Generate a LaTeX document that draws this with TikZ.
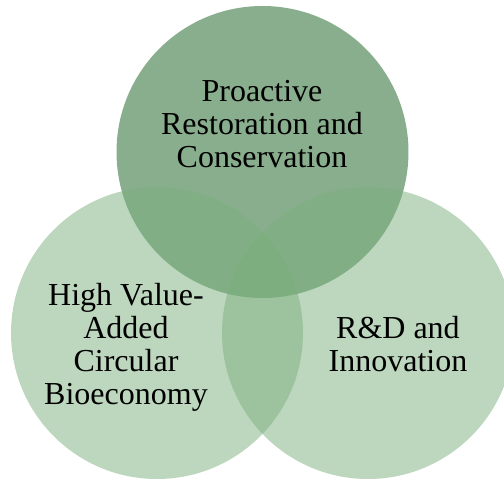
\documentclass[tikz,border=0pt]{standalone}
\usepackage{fontspec}
\setmainfont{Liberation Serif}
\usepackage{tikz}
\usetikzlibrary{positioning}

\definecolor{topgreen}{RGB}{137,174,141}
\definecolor{sidegreen}{RGB}{123,175,125}

\begin{document}
\begin{tikzpicture}[x=1pt,y=1pt]
        \tikzstyle{disc}=[circle,draw=none,minimum size=292pt,inner sep=0pt]
        \tikzstyle{caption}=[align=center,inner sep=0pt,
            font=\fontsize{32}{33}\selectfont]
            \clip (0,0) rectangle (504,481);

            % top circle first, the other two are see-through on top of it
            \node[disc, fill=topgreen] (restore) at (262.5,329) {};
            \node[disc, fill=sidegreen, fill opacity=.5] (bioeco) at (157,148) {};
            \node[disc, fill=sidegreen, fill opacity=.5] (rnd) at (368,148) {};

            \node[caption] (restoretxt) at (262,357)
                {Proactive\\Restoration and\\Conservation};
            \node[caption] (bioecotxt) at (126,134)
                {High Value-\\Added\\Circular\\Bioeconomy};
            \node[caption] (rndtxt) at (398,137) {R\&D and\\Innovation};
        \end{tikzpicture}
\end{document}
